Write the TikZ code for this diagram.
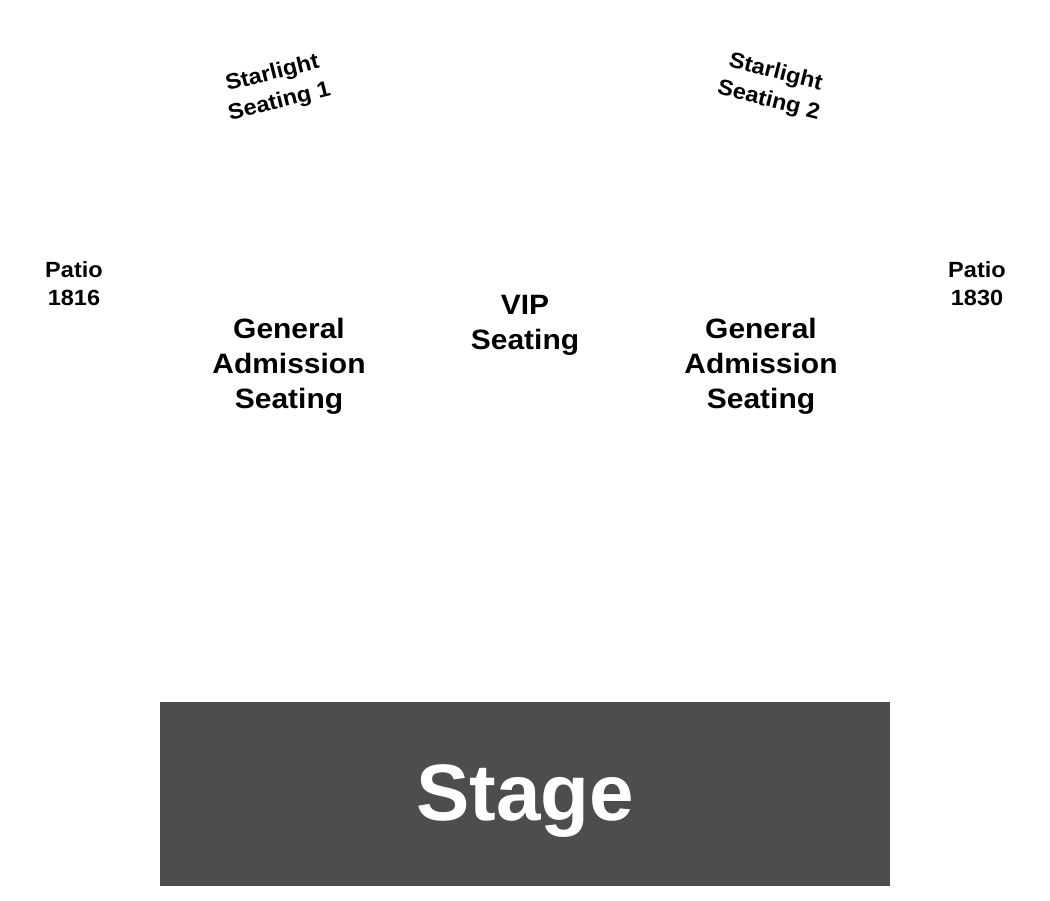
\documentclass[tikz,border=0pt]{standalone}
\usepackage{fontspec}
\setmainfont{Liberation Sans}
\newfontfamily\widefont[FakeStretch=1.07]{Liberation Sans}
\definecolor{stagegray}{HTML}{4D4D4D}
\begin{document}
\begin{tikzpicture}[x=1pt,y=-1pt,
  lbl/.style={font=\widefont\bfseries\fontsize{28}{35}\selectfont, align=center, inner sep=0pt},
  patio/.style={font=\widefont\bfseries\fontsize{22}{28}\selectfont, align=center, inner sep=0pt},
  star/.style={font=\widefont\bfseries\fontsize{22}{29}\selectfont, align=center, inner sep=0pt},
  stagebox/.style={fill=stagegray, draw=none, minimum width=730, minimum height=184, inner sep=0pt},
  stagetext/.style={text=white, inner sep=0pt, font=\bfseries\fontsize{80}{90}\selectfont}]
\useasboundingbox[fill=white] (0,0) rectangle (1050,900);
\node[stagebox] (stage) at (525,793.5) {};
\node[stagetext] (stagelbl) at (525,801) {Stage};
\node[lbl] (gal) at (289,366) {General\\Admission\\Seating};
\node[lbl] (gar) at (761,366) {General\\Admission\\Seating};
\node[lbl] (vip) at (525,325) {VIP\\Seating};
\node[patio] (pl) at (74,284) {Patio\\1816};
\node[patio] (pr) at (977,284) {Patio\\1830};
\node[star, rotate=14] (s1) at (276,88) {Starlight\\Seating 1};
\node[star, rotate=-14] (s2) at (772,87) {Starlight\\Seating 2};
\end{tikzpicture}
\end{document}
